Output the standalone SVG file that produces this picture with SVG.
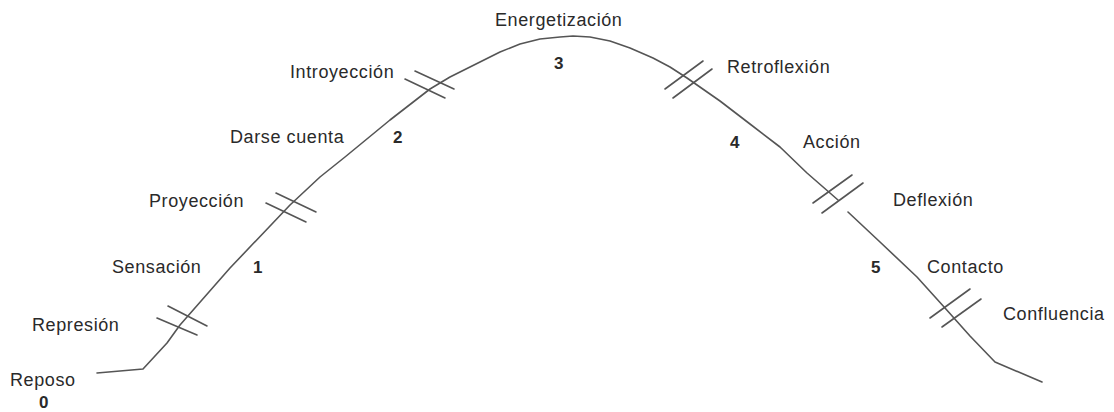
<svg xmlns="http://www.w3.org/2000/svg" width="1114" height="412" viewBox="0 0 1114 412">
<style>
.c{fill:none;stroke:#555;stroke-width:1.6;stroke-linejoin:round;stroke-linecap:round}
.h{stroke:#555;stroke-width:1.6;stroke-linecap:round}
.t{font-family:"Liberation Sans",Arial,sans-serif;font-size:18px;letter-spacing:0.6px;fill:#2a2a2a}
.n{font-family:"Liberation Sans",Arial,sans-serif;font-size:17px;font-weight:bold;fill:#2a2a2a}
</style>
<rect width="1114" height="412" fill="#fff"/>
<g id="connectors">
<path class="c" d="M97,373 L143,369 L167,343 L180,325 L230,268 L290,205 L320,177 L345,157 L390,120 L430,89 L450,77 L480,62 L500,52 L520,44 L540,39 L560,37 L573,36 L590,37 L610,41 L630,48 L653,58 L670,67 L687,78 L720,101 L750,124 L780,147 L807,173 L838,200"/>
<path class="c" d="M848,212 L880,242 L917,277 L945,308 L970,336 L995,362 L1042,382"/>
</g>
<g id="hash-represion"><line class="h" x1="168" y1="306" x2="207" y2="326"/><line class="h" x1="157" y1="318" x2="197" y2="335"/></g>
<g id="hash-proyeccion"><line class="h" x1="276" y1="193" x2="316" y2="212"/><line class="h" x1="266" y1="203" x2="306" y2="222"/></g>
<g id="hash-introyeccion"><line class="h" x1="415" y1="71" x2="454" y2="89"/><line class="h" x1="405" y1="79" x2="445" y2="98"/></g>
<g id="hash-retroflexion"><line class="h" x1="703" y1="61" x2="665" y2="89"/><line class="h" x1="712" y1="69" x2="673" y2="98"/></g>
<g id="hash-deflexion"><line class="h" x1="852" y1="175" x2="813" y2="203"/><line class="h" x1="863" y1="183" x2="822" y2="213"/></g>
<g id="hash-confluencia"><line class="h" x1="970" y1="289" x2="930" y2="318"/><line class="h" x1="981" y1="299" x2="942" y2="327"/></g>
<g id="node-reposo"><text class="t" x="10" y="386">Reposo</text><text class="n" x="39" y="408">0</text></g>
<g id="node-represion"><text class="t" x="32" y="331">Represión</text></g>
<g id="node-sensacion"><text class="t" x="112" y="273">Sensación</text><text class="n" x="253" y="273">1</text></g>
<g id="node-proyeccion"><text class="t" x="149" y="207">Proyección</text></g>
<g id="node-darse"><text class="t" x="230" y="143">Darse cuenta</text><text class="n" x="393" y="143">2</text></g>
<g id="node-introyeccion"><text class="t" x="290" y="78">Introyección</text></g>
<g id="node-energetizacion"><text class="t" x="495" y="26">Energetización</text><text class="n" x="554" y="69">3</text></g>
<g id="node-retroflexion"><text class="t" x="727" y="73">Retroflexión</text></g>
<g id="node-accion"><text class="n" x="730" y="148">4</text><text class="t" x="803" y="148">Acción</text></g>
<g id="node-deflexion"><text class="t" x="893" y="206">Deflexión</text></g>
<g id="node-contacto"><text class="n" x="871" y="273">5</text><text class="t" x="927" y="273">Contacto</text></g>
<g id="node-confluencia"><text class="t" x="1003" y="320">Confluencia</text></g>
</svg>
